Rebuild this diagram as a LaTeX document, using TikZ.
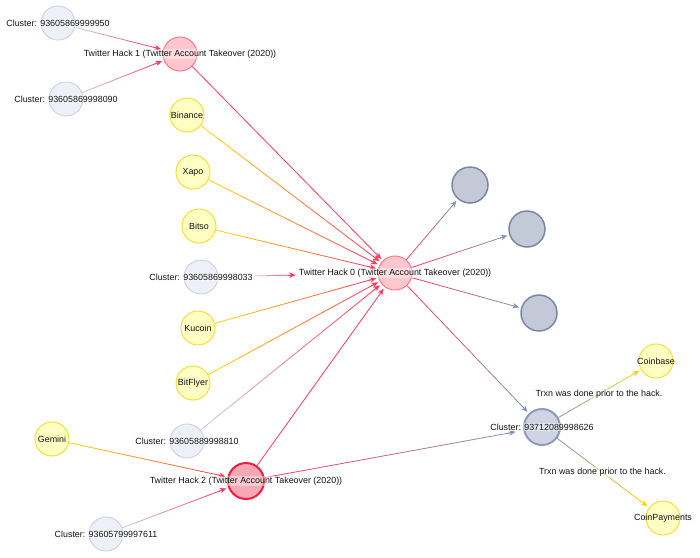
\documentclass[tikz,border=0pt]{standalone}
\usepackage{fontspec}
\setmainfont{Liberation Sans}
\usetikzlibrary{arrows.meta,calc}
\pgfdeclarelayer{back}
\pgfdeclarelayer{bg}
\pgfsetlayers{back,bg,main}
\definecolor{edgered}{HTML}{FF3A5C}
\definecolor{edgeyel}{HTML}{FFD300}
\definecolor{edgelav}{HTML}{C2C8DE}
\definecolor{edgegray}{HTML}{8492B4}
\definecolor{clfill}{HTML}{EEF0F8}
\definecolor{cldraw}{HTML}{C8CEE3}
\definecolor{hkfill}{HTML}{FFC6CE}
\definecolor{hkdraw}{HTML}{FF6F86}
\definecolor{hktfill}{HTML}{F6A8B4}
\definecolor{hktdraw}{HTML}{F21E40}
\definecolor{ylfill}{HTML}{FFFFC4}
\definecolor{yldraw}{HTML}{F3DE3A}
\definecolor{gyfill}{HTML}{C4C9D7}
\definecolor{gydraw}{HTML}{7B87A3}
\definecolor{bcfill}{HTML}{CED4E3}
\definecolor{bcdraw}{HTML}{8E9CBC}
\newcommand\gedge[4]{%
  \path (#1) -- (#2) coordinate[pos=0] (gs) coordinate[pos=1] (gt);
  \coordinate (ge) at ($(gt)!2pt!(gs)$);
  \coordinate (gm) at ($(ge)!3pt!(gs)$);
  \coordinate (ga) at ($(ge)!8pt!(gs)$);
  \foreach \k [evaluate=\k as \pc using int(100*\k/10), evaluate=\k as \kn using \k+1] in {0,...,10}{
    \draw[edge, draw={#4!\pc!#3}] ($(gs)!\k/11!(gm)$) -- ($(gs)!\kn/11!(gm)$);
  }
  \draw[edge, #4, -{Stealth[length=6.5pt,width=5.5pt]}] (ga) -- (ge);
}
\tikzset{
  edge/.style={line width=0.8pt},
  cl/.style={circle, minimum size=34pt, inner sep=0pt, fill=clfill, draw=cldraw, line width=0.8pt},
  hk/.style={circle, minimum size=34pt, inner sep=0pt, fill=hkfill, draw=hkdraw, line width=0.9pt},
  hkt/.style={circle, minimum size=36pt, inner sep=0pt, fill=hktfill, draw=hktdraw, line width=2pt},
  yl/.style={circle, minimum size=34pt, inner sep=0pt, fill=ylfill, draw=yldraw, line width=1pt},
  gy/.style={circle, minimum size=36pt, inner sep=0pt, fill=gyfill, draw=gydraw, line width=1.5pt},
  bc/.style={circle, minimum size=36pt, inner sep=0pt, fill=bcfill, draw=bcdraw, line width=2pt},
  lab/.style={font=\fontsize{8.9pt}{10pt}\selectfont, inner sep=1pt, text=black!92},
  blab/.style={lab, fill=white, fill opacity=0.4, text opacity=1},
}
\begin{document}
\begin{tikzpicture}[x=1pt,y=-1pt]
\begin{pgfonlayer}{back}
\fill[white] (0,0) rectangle (700,557);
\end{pgfonlayer}
\useasboundingbox (0,0) rectangle (700,557);
% circles
\node[cl] (c950) at (58,23) {};
\node[hk] (h1) at (180,54) {};
\node[cl] (c090) at (66,99) {};
\node[yl] (binance) at (187,115) {};
\node[yl] (xapo) at (193,172) {};
\node[yl] (bitso) at (199,226) {};
\node[cl] (c033) at (201,277) {};
\node[hk] (h0) at (395,273) {};
\node[yl] (kucoin) at (198,328) {};
\node[yl] (bitflyer) at (193,383) {};
\node[cl] (c810) at (187,441) {};
\node[yl] (gemini) at (52,439) {};
\node[hkt] (h2) at (246,481) {};
\node[cl] (c611) at (106,534) {};
\node[gy] (g1) at (470,185) {};
\node[gy] (g2) at (527,229) {};
\node[gy] (g3) at (539,313) {};
\node[bc] (c626) at (542,427) {};
\node[yl] (coinbase) at (656,361) {};
\node[yl] (coinpay) at (663,518) {};
% labels
\node[blab] (l950) at (c950) {Cluster: 93605869999950};
\node[blab] (l1) at (h1) {Twitter Hack 1 (Twitter Account Takeover (2020))};
\node[blab] (l090) at (c090) {Cluster: 93605869998090};
\node[lab] (lbinance) at (binance) {Binance};
\node[lab] (lxapo) at (xapo) {Xapo};
\node[lab] (lbitso) at (bitso) {Bitso};
\node[blab] (l033) at (c033) {Cluster: 93605869998033};
\node[blab] (l0) at (h0) {Twitter Hack 0 (Twitter Account Takeover (2020))};
\node[lab] (lkucoin) at (kucoin) {Kucoin};
\node[lab] (lbitflyer) at (bitflyer) {BitFlyer};
\node[blab] (l810) at (c810) {Cluster: 93605889998810};
\node[lab] (lgemini) at (gemini) {Gemini};
\node[blab] (l2) at (h2) {Twitter Hack 2 (Twitter Account Takeover (2020))};
\node[blab] (l611) at (c611) {Cluster: 93605799997611};
\node[blab] (l626) at (c626) {Cluster: 93712089998626};
\node[lab] (lcoinbase) at (coinbase) {Coinbase};
\node[lab] (lcoinpay) at (coinpay) {CoinPayments};
% edges
\begin{pgfonlayer}{bg}
\gedge{l950}{h1}{edgelav}{edgered}
\gedge{c090}{h1}{edgelav}{edgered}
\gedge{h1}{h0}{edgered}{edgered}
\gedge{binance}{h0}{edgeyel}{edgered}
\gedge{xapo}{h0}{edgeyel}{edgered}
\gedge{bitso}{h0}{edgeyel}{edgered}
\gedge{l033}{l0}{edgelav}{edgered}
\gedge{kucoin}{h0}{edgeyel}{edgered}
\gedge{bitflyer}{h0}{edgeyel}{edgered}
\gedge{c810}{h0}{edgelav}{edgered}
\gedge{h2}{h0}{edgered}{edgered}
\gedge{gemini}{h2}{edgeyel}{edgered}
\gedge{c611}{h2}{edgelav}{edgered}
\gedge{h2}{l626}{edgered}{edgegray}
\gedge{h0}{c626}{edgered}{edgegray}
\gedge{h0}{g1}{edgered}{edgegray}
\gedge{h0}{g2}{edgered}{edgegray}
\gedge{h0}{g3}{edgered}{edgegray}
\gedge{c626}{coinbase}{edgegray}{edgeyel}
\gedge{c626}{coinpay}{edgegray}{edgeyel}
\end{pgfonlayer}
\node[blab] (t1) at ($(c626)!0.5!(coinbase)$) {Trxn was done prior to the hack.};
\node[blab] (t2) at ($(c626)!0.5!(coinpay)$) {Trxn was done prior to the hack.};
\end{tikzpicture}
\end{document}
